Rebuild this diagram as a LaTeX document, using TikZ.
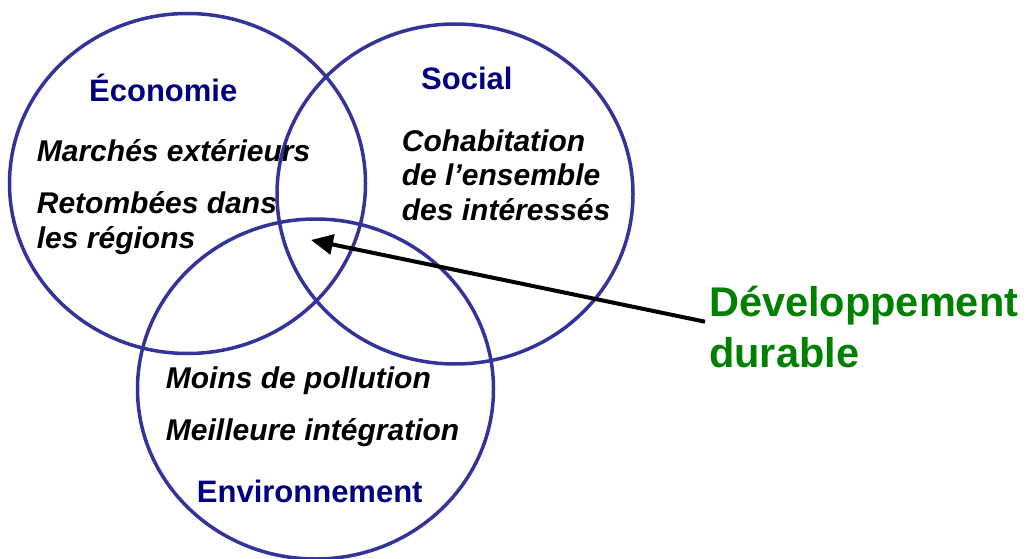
\documentclass[tikz,border=0pt]{standalone}
\usepackage{fontspec}
\setmainfont{Liberation Sans}
\usetikzlibrary{arrows.meta}
\definecolor{ringblue}{RGB}{51,51,153}
\definecolor{labelnavy}{RGB}{0,0,128}
\definecolor{durgreen}{RGB}{0,128,0}
\tikzset{
  ring/.style={draw=ringblue, line width=3.5pt},
  sphere/.style={anchor=base west, inner sep=0pt, text=labelnavy, font=\fontsize{31}{31}\selectfont\bfseries},
  item/.style={anchor=base west, inner sep=0pt, text=black, font=\fontsize{30}{30}\selectfont\bfseries\itshape},
  goal/.style={anchor=base west, inner sep=0pt, text=durgreen, font=\fontsize{41.5}{50}\selectfont\bfseries},
  pointer/.style={draw=black, line width=4pt, -{Triangle[length=22pt,width=20pt]}}
}
\begin{document}
\begin{tikzpicture}[x=1pt,y=-1pt]
\useasboundingbox (0,0) rectangle (1031,559);
% circles
\coordinate (ce) at (187.5,183.5);
\coordinate (cs) at (455,194);
\coordinate (cv) at (315.5,389);
\draw[ring] (ce) ellipse [x radius=178pt, y radius=170pt];
\draw[ring] (cs) ellipse [x radius=178pt, y radius=170pt];
\draw[ring] (cv) ellipse [x radius=178pt, y radius=170pt];
% titles
\node[sphere] (eco) at (89,101.7) {Économie};
\node[sphere] (soc) at (421,90) {Social};
\node[sphere] (env) at (196.7,502.7) {Environnement};
% items
\node[item] (m1) at (36.7,161.7) {Marchés extérieurs};
\node[item] (m2) at (36.7,213.3) {Retombées dans};
\node[item] (m3) at (36.7,248.3) {les régions};
\node[item] (s1) at (401.7,151.7) {Cohabitation};
\node[item] (s2) at (401.7,185.5) {de l’ensemble};
\node[item] (s3) at (401.7,220) {des intéressés};
\node[item] (v1) at (165.7,388.3) {Moins de pollution};
\node[item] (v2) at (165.7,440) {Meilleure intégration};
% goal
\node[goal] (dd1) at (709,316.7) {Développement};
\node[goal] (dd2) at (709,367) {durable};
\coordinate (tail) at (705,321.7);
\coordinate (tip) at (311,240);
\draw[pointer] (tail) -- (tip);
\end{tikzpicture}
\end{document}
